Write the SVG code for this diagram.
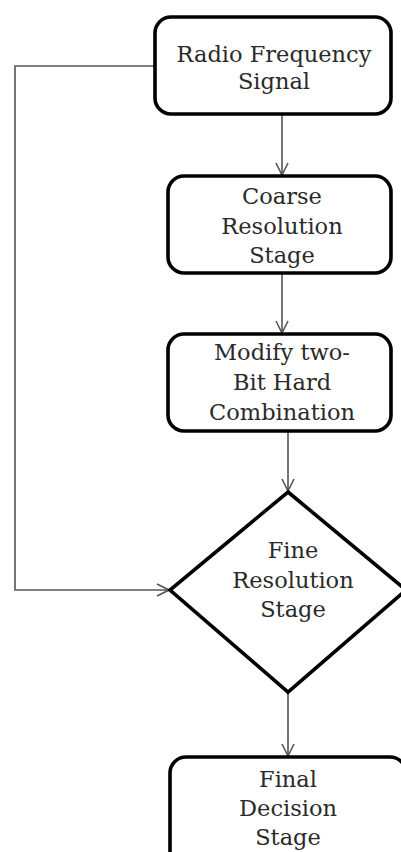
<svg xmlns="http://www.w3.org/2000/svg" width="401" height="852" viewBox="0 0 401 852">
<style>
.node{fill:#fff;stroke:#000;stroke-width:3.6;}
.lbl{font-family:"DejaVu Serif","Liberation Serif",serif;font-size:22.5px;fill:#2a2a2a;text-anchor:middle;}
.conn{fill:none;stroke:#555;stroke-width:1.6;}
</style>
<defs>
<marker id="arr" viewBox="0 0 14 14" refX="13" refY="7" markerWidth="14" markerHeight="14" markerUnits="userSpaceOnUse" orient="auto">
<path d="M1,1 L13,7 L1,13" fill="none" stroke="#555" stroke-width="1.6"/>
</marker>
</defs>
<rect width="401" height="852" fill="#fff"/>
<g id="connectors">
<path class="conn" d="M282,114 V175" marker-end="url(#arr)"/>
<path class="conn" d="M282,273 V333" marker-end="url(#arr)"/>
<path class="conn" d="M288,431 V491" marker-end="url(#arr)"/>
<path class="conn" d="M288,692 V756" marker-end="url(#arr)"/>
<path class="conn" d="M155,66 H15 V590 H169" marker-end="url(#arr)"/>
</g>
<g id="n1">
<rect class="node" x="155" y="17" width="236" height="97" rx="16"/>
<text class="lbl" x="274" y="62">Radio Frequency</text>
<text class="lbl" x="274" y="89">Signal</text>
</g>
<g id="n2">
<rect class="node" x="168" y="176" width="223" height="97" rx="16"/>
<text class="lbl" x="282" y="204">Coarse</text>
<text class="lbl" x="282" y="234">Resolution</text>
<text class="lbl" x="282" y="263">Stage</text>
</g>
<g id="n3">
<rect class="node" x="168" y="334" width="223" height="97" rx="16"/>
<text class="lbl" x="282" y="360">Modify two-</text>
<text class="lbl" x="282" y="390">Bit Hard</text>
<text class="lbl" x="282" y="420">Combination</text>
</g>
<g id="n4">
<polygon class="node" points="288,492 406,590 288,692 170,590"/>
<text class="lbl" x="293" y="558">Fine</text>
<text class="lbl" x="293" y="588">Resolution</text>
<text class="lbl" x="293" y="617">Stage</text>
</g>
<g id="n5">
<rect class="node" x="170" y="757" width="236" height="110" rx="16"/>
<text class="lbl" x="288" y="787">Final</text>
<text class="lbl" x="288" y="816">Decision</text>
<text class="lbl" x="288" y="845">Stage</text>
</g>
</svg>
